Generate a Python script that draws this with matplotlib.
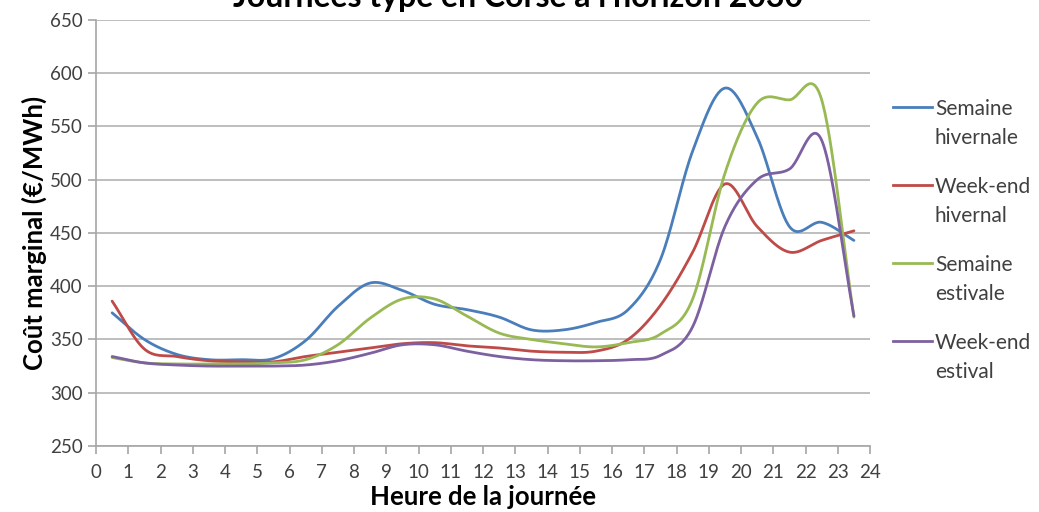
import numpy as np
import matplotlib
matplotlib.use("Agg")
import matplotlib.pyplot as plt
from matplotlib.lines import Line2D

plt.rcParams['font.family'] = ['Lato', 'DejaVu Sans']

# hourly points
hours = np.arange(24) + 0.5
semaine_hiver = [375, 350, 336, 331, 331, 332, 349, 381, 403, 396, 383, 378,
                 371, 359, 359, 366, 378, 425, 527, 586, 540, 456, 460, 443]
weekend_hiver = [386, 341, 334, 330, 329, 329, 334, 338, 342, 346, 347, 344,
                 342, 339, 338, 339, 350, 382, 432, 496, 456, 432, 443, 452]
semaine_ete = [333, 328, 327, 327, 327, 328, 331, 345, 370, 388, 388, 372,
               356, 350, 346, 343, 347, 355, 388, 506, 572, 575, 575, 371]
weekend_ete = [334, 328, 326, 325, 325, 325, 326, 330, 337, 345, 345, 339,
               334, 331, 330, 330, 331, 335, 362, 456, 500, 510, 537, 372]

labels = ["Semaine\nhivernale", "Week-end\nhivernal", "Semaine\nestivale", "Week-end\nestival"]
colors = ["#4a7ebb", "#be4b48", "#98b954", "#7d60a0"]
series = [semaine_hiver, weekend_hiver, semaine_ete, weekend_ete]


def smooth(x, y, n=30):
    # catmull-rom like excel "smoothed line"
    x = np.asarray(x, float)
    y = np.asarray(y, float)
    xs, ys = [], []
    for i in range(len(x) - 1):
        y0 = y[i - 1] if i > 0 else y[i]
        y3 = y[i + 2] if i + 2 < len(y) else y[i + 1]
        m1 = (y[i + 1] - y0) / 2 if i > 0 else (y[i + 1] - y[i])
        m2 = (y3 - y[i]) / 2 if i + 2 < len(y) else (y[i + 1] - y[i])
        t = np.linspace(0, 1, n, endpoint=False)
        h00 = 2 * t**3 - 3 * t**2 + 1
        h10 = t**3 - 2 * t**2 + t
        h01 = -2 * t**3 + 3 * t**2
        h11 = t**3 - t**2
        xs.append(x[i] + t * (x[i + 1] - x[i]))
        ys.append(h00 * y[i] + h10 * m1 + h01 * y[i + 1] + h11 * m2)
    xs.append([x[-1]])
    ys.append([y[-1]])
    return np.concatenate(xs), np.concatenate(ys)


fig = plt.figure(figsize=(10.39, 5.12), dpi=100)
ax = fig.add_axes([0.0924, 0.129, 0.745, 0.832])

for vals, c in zip(series, colors):
    sx, sy = smooth(hours, vals)
    ax.plot(sx, sy, color=c, lw=2.0, solid_capstyle='round')

ax.set_xlim(0, 24)
ax.set_ylim(250, 650)
ax.set_xticks(range(25))
ax.set_yticks(range(250, 651, 50))
ax.yaxis.grid(True, color="#b3b3b3", lw=1.2)
ax.set_axisbelow(True)
for s in ["top", "right"]:
    ax.spines[s].set_visible(False)
for s in ["left", "bottom"]:
    ax.spines[s].set_color("#a6a6a6")
    ax.spines[s].set_linewidth(1.2)
ax.tick_params(axis="both", colors="#a6a6a6", length=6, width=1.2, labelsize=13.5,
               labelcolor="#404040")
ax.tick_params(axis="x", pad=7)

ax.set_xlabel("Heure de la journée", fontsize=18.5, fontweight="bold", labelpad=3)
ax.set_ylabel("Coût marginal (€/MWh)", fontsize=18.5, fontweight="bold", labelpad=2)

# title partly above the top edge, as in the source image
fig.text(0.499, 1.004, "Journées type en Corse à l'horizon 2030", ha="center", va="center",
         fontsize=23, fontweight="bold")

# legend on the right, handle next to first line of text
for i, (lab, c) in enumerate(zip(labels, colors)):
    y = 1 - (107 + 78 * i) / 512
    fig.add_artist(Line2D([893 / 1039, 932 / 1039], [y, y], color=c, lw=2.0,
                          transform=fig.transFigure))
    fig.text(935 / 1039, y + 0.016, lab, ha="left", va="top", fontsize=15,
             color="#404040", linespacing=1.55)

fig.savefig("out.png", dpi=100)
